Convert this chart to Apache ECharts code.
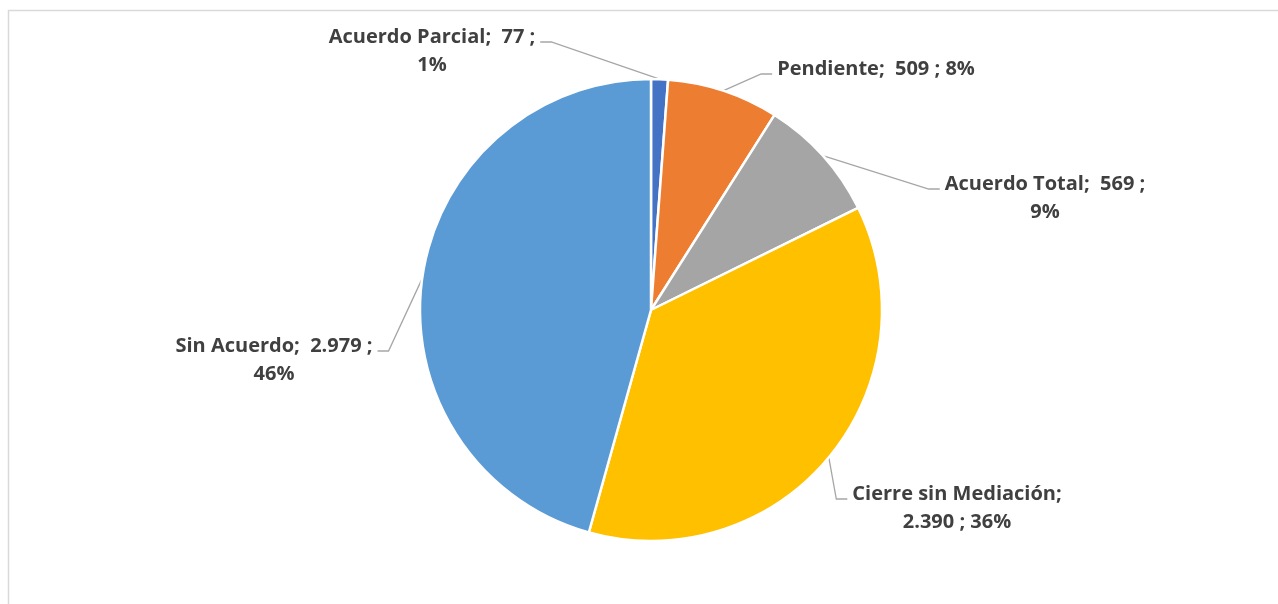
<!DOCTYPE html>
<html>
<head>
<meta charset="utf-8">
<script src="https://cdn.jsdelivr.net/npm/echarts@6/dist/echarts.min.js"></script>
<style>
  html, body { margin: 0; padding: 0; background: #fff; }
  #pieBox { width: 1278px; height: 604px; }
</style>
</head>
<body>
<div id="pieBox"></div>
<script>
// Estado de mediaciones
var categories = ['Acuerdo Parcial', 'Pendiente', 'Acuerdo Total', 'Cierre sin Mediación', 'Sin Acuerdo'];
var values = [77, 509, 569, 2390, 2979];

// donde corta la etiqueta en dos lineas
var labelBreak = ['value', 'none', 'value', 'name', 'value'];

var colors = ['#4472C4', '#ED7D31', '#A5A5A5', '#FFC000', '#5B9BD5'];

// centro de cada etiqueta (x, y)
var labelCenter = [
  [432, 51],
  [876, 69],
  [1045, 198],
  [957, 508],
  [274, 360]
];

var LINE_H = 28;

function fmtNum(v) {
  return String(v).replace(/\B(?=(\d{3})+(?!\d))/g, '.');
}

var pieData = categories.map(function (name, i) {
  return { name: name, value: values[i], itemStyle: { color: colors[i] } };
});

var option = {
  animation: false,
  graphic: [
    {
      type: 'rect',
      silent: true,
      shape: { x: 8.5, y: 10.5, width: 1400, height: 700 },
      style: { fill: 'none', stroke: '#d9d9d9', lineWidth: 1.5 }
    }
  ],
  series: [
    {
      type: 'pie',
      center: [651, 310],
      radius: 231,
      startAngle: 90,
      clockwise: true,
      percentPrecision: 0,
      data: pieData,
      itemStyle: {
        borderColor: '#fff',
        borderWidth: 2.5
      },
      label: {
        show: true,
        position: 'outside',
        color: '#404040',
        fontFamily: '"Open Sans"',
        fontWeight: 'bold',
        fontSize: 20,
        lineHeight: LINE_H,
        formatter: function (p) {
          var name = p.name;
          var val = fmtNum(p.value);
          var pct = p.percent + '%';
          var brk = labelBreak[p.dataIndex];
          if (brk === 'name') {
            return name + ';\n' + val + ' ; ' + pct;
          }
          if (brk === 'value') {
            return name + ';  ' + val + ' ;\n' + pct;
          }
          return name + ';  ' + val + ' ; ' + pct;
        }
      },
      labelLine: {
        show: true,
        smooth: false,
        length: 20,
        length2: 10,
        lineStyle: { color: '#a6a6a6', width: 1.3 }
      },
      labelLayout: function (params) {
        var c = labelCenter[params.dataIndex];
        var w = params.labelRect.width;
        var h = params.labelRect.height;
        var left = c[0] - w / 2;
        var right = c[0] + w / 2;
        var top = c[1] - h / 2;
        var lineY = top + LINE_H / 2 + 5;
        var pts = params.labelLinePoints;
        var p0 = pts ? pts[0] : [c[0], c[1]];
        var p1, p2;
        if (c[0] > p0[0]) {
          p2 = [left - 5, lineY];
          p1 = [left - 16, lineY];
        } else {
          p2 = [right + 5, lineY];
          p1 = [right + 16, lineY];
        }
        return {
          x: c[0],
          y: c[1],
          align: 'center',
          verticalAlign: 'middle',
          labelLinePoints: [p0, p1, p2]
        };
      }
    }
  ]
};

var pieDom = document.getElementById('pieBox');
var pieChart = echarts.init(pieDom);
pieChart.setOption(option);
</script>
</body>
</html>
